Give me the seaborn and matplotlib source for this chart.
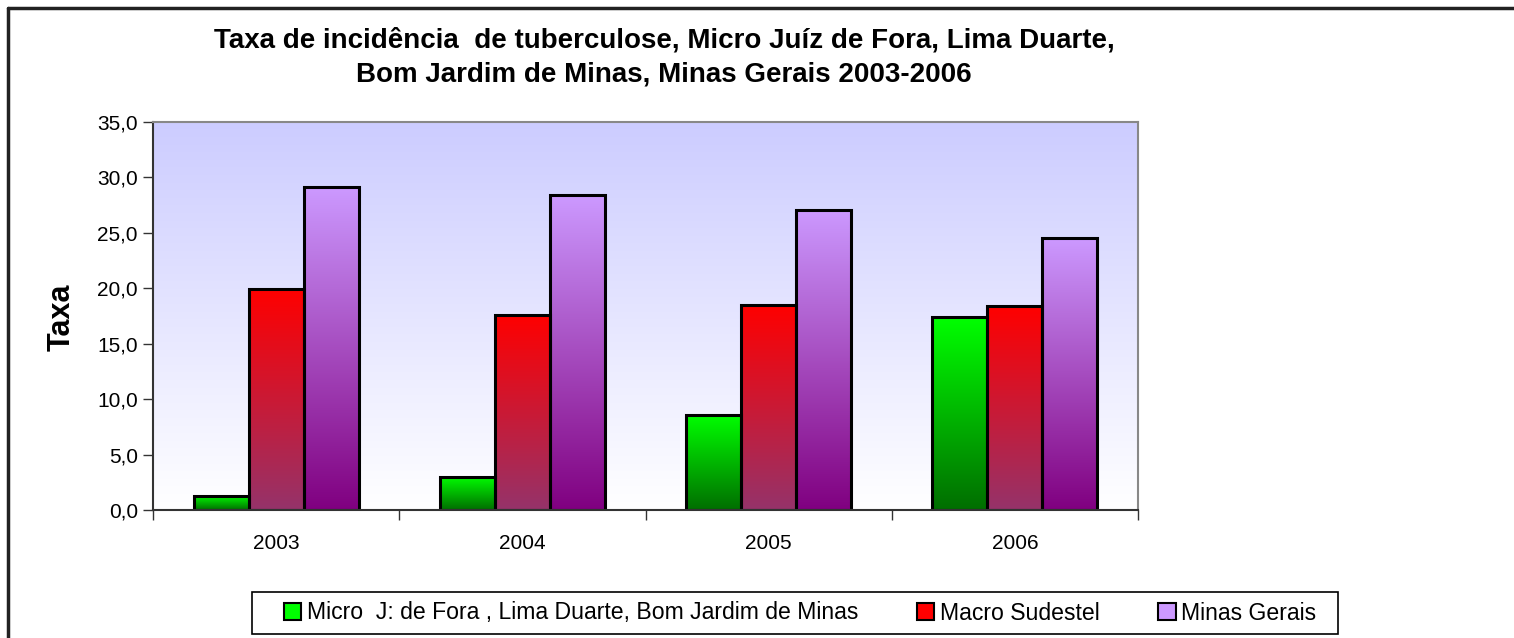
import numpy as np
import pandas as pd
import matplotlib
matplotlib.use("Agg")
import matplotlib.pyplot as plt
from matplotlib.colors import LinearSegmentedColormap
from matplotlib.lines import Line2D
from matplotlib.patches import Patch, Rectangle
import seaborn as sns

anos = ["2003", "2004", "2005", "2006"]
series = ["Micro  J: de Fora , Lima Duarte, Bom Jardim de Minas",
          "Macro Sudestel",
          "Minas Gerais"]
micro = [1.3, 3.0, 8.6, 17.4]
macro = [19.9, 17.6, 18.5, 18.4]
minas = [29.1, 28.4, 27.1, 24.5]

# gradient colours (top, bottom) for each series
grad_top = ["#00ff00", "#ff0000", "#cc99ff"]
grad_bot = ["#006e00", "#95336a", "#800080"]

df = pd.DataFrame({
    "ano": anos * 3,
    "taxa": micro + macro + minas,
    "serie": [s for s in series for _ in anos],
})

sns.set_style("white")
plt.rcParams["font.family"] = ["Liberation Sans", "DejaVu Sans"]
for key in ["text.color", "axes.labelcolor", "xtick.color", "ytick.color"]:
    plt.rcParams[key] = "black"

fig = plt.figure(figsize=(15.14, 6.38), dpi=100)
ax = fig.add_axes([0.1011, 0.2006, 0.6506, 0.6082])

sns.barplot(data=df, x="ano", y="taxa", hue="serie", hue_order=series,
            palette=grad_top, width=0.67, gap=0, edgecolor="black",
            linewidth=2.2, legend=False, ax=ax)

# background gradient of the plot area
bg = LinearSegmentedColormap.from_list("bg", ["#ffffff", "#ccccff"])
ax.imshow(np.linspace(0, 1, 256).reshape(-1, 1), cmap=bg, aspect="auto",
          extent=[0, 1, 0, 1], transform=ax.transAxes, origin="lower", zorder=0)

# gradient fill for each bar
for i, p in enumerate(ax.patches):
    k = i // len(anos)
    cm = LinearSegmentedColormap.from_list("g%d" % k, [grad_bot[k], grad_top[k]])
    x0, y0 = p.get_x(), p.get_y()
    w, h = p.get_width(), p.get_height()
    im = ax.imshow(np.linspace(0, 1, 256).reshape(-1, 1), cmap=cm, aspect="auto",
                   extent=[x0, x0 + w, y0, y0 + h], origin="lower", zorder=1)
    im.set_clip_path(p)
    p.set_facecolor("none")
    p.set_zorder(2)

ax.set_xlim(-0.5, 3.5)
ax.set_ylim(0, 35)

yt = np.arange(0, 35.1, 5)
ax.set_yticks(yt)
ax.set_yticklabels([("%.1f" % v).replace(".", ",") for v in yt])
ax.set_xticks(range(4))
ax.set_xticklabels(anos)
ax.set_xticks([-0.5, 0.5, 1.5, 2.5, 3.5], minor=True)
ax.tick_params(axis="x", which="major", length=0, pad=17, labelsize=15)
ax.tick_params(axis="x", which="minor", length=7, width=1, color="#333333",
               direction="out", bottom=True)
ax.tick_params(axis="y", length=7, width=1, color="#333333", direction="out",
               left=True, pad=4, labelsize=15)
ax.set_xlabel("")
ax.set_ylabel("")
fig.text(62 / 1514, 1 - 317 / 638, "Taxa", rotation=90, ha="center", va="center",
         fontsize=22, fontweight="bold")

for s in ["top", "right"]:
    ax.spines[s].set_color("#888888")
    ax.spines[s].set_linewidth(1.5)
for s in ["left", "bottom"]:
    ax.spines[s].set_color("#333333")
    ax.spines[s].set_linewidth(1.5)

fig.text(0.4386, 1 - 41 / 638,
         "Taxa de incidência  de tuberculose, Micro Juíz de Fora, Lima Duarte,",
         ha="center", va="center", fontsize=20, fontweight="bold")
fig.text(0.4386, 1 - 75 / 638, "Bom Jardim de Minas, Minas Gerais 2003-2006",
         ha="center", va="center", fontsize=20, fontweight="bold")

handles = [Patch(facecolor=c, edgecolor="black", linewidth=1.5) for c in grad_top]
leg = fig.legend(handles, series, loc="center", bbox_to_anchor=(800 / 1514, 1 - 613 / 638),
                 ncol=3, frameon=False, fontsize=16.6,
                 handlelength=0.75, handleheight=0.75, handletextpad=0.25,
                 columnspacing=2.55, borderpad=0.2)
fig.add_artist(Rectangle((252 / 1514, 1 - 634 / 638), 1086 / 1514, 42 / 638,
                         transform=fig.transFigure, fill=False,
                         edgecolor="black", linewidth=1.2))

# outer chart border (left and top)
fig.add_artist(Line2D([0.0056, 0.0056], [0, 0.9875], color="#222222", lw=2.5,
                      transform=fig.transFigure))
fig.add_artist(Line2D([0.0056, 1.0], [0.9875, 0.9875], color="#222222", lw=2.5,
                      transform=fig.transFigure))

fig.savefig("out.png", dpi=100)
